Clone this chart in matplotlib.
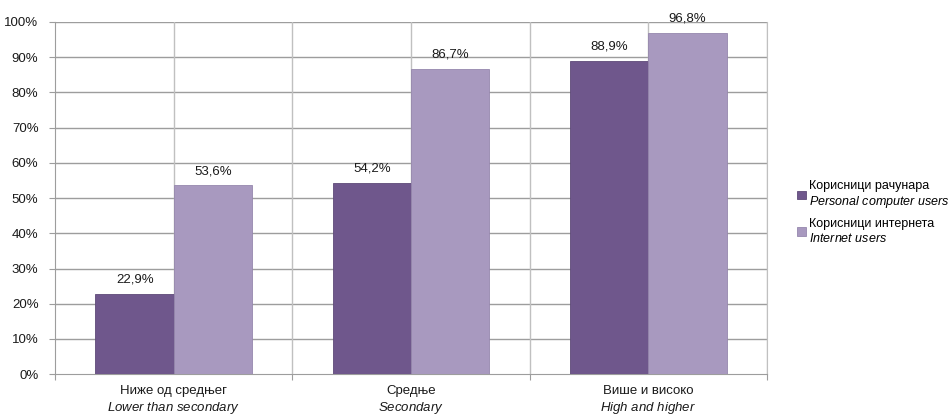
import matplotlib
matplotlib.use("Agg")
import matplotlib.pyplot as plt
import numpy as np

# data
categories = ["Ниже од средњег", "Средње", "Више и високо"]
categories_en = ["Lower than secondary", "Secondary", "High and higher"]
pc_users = [22.9, 54.2, 88.9]
net_users = [53.6, 86.7, 96.8]
series_names = ["Корисници рачунара", "Корисници интернета"]
series_names_en = ["Personal computer users", "Internet users"]

fam = "Liberation Sans"
plt.rcParams['font.family'] = [fam, 'DejaVu Sans']
plt.rcParams['mathtext.fontset'] = 'custom'
plt.rcParams['mathtext.rm'] = fam
plt.rcParams['mathtext.it'] = fam + ':italic'

dark = "#6f578c"
light = "#a899bf"
grid_col = "#9d9d9d"
txt_col = "#1a1a1a"


def it(s):
    return "$\\it{" + s.replace(" ", "\\ ") + "}$"


fig = plt.figure(figsize=(9.51, 4.19), dpi=100)
ax = fig.add_axes([0.058, 0.107, 0.7485, 0.8405])

x = np.arange(len(categories))
w = 0.33
b1 = ax.bar(x - w/2, pc_users, w, color=dark, edgecolor="#5e4a78", linewidth=0.6,
            label=series_names[0] + "\n" + it(series_names_en[0]), zorder=3)
b2 = ax.bar(x + w/2, net_users, w, color=light, edgecolor="#9687ad", linewidth=0.6,
            label=series_names[1] + "\n" + it(series_names_en[1]), zorder=3)

for bars, vals in [(b1, pc_users), (b2, net_users)]:
    for r, v in zip(bars, vals):
        ax.annotate(f"{v:.1f}".replace(".", ",") + "%",
                    (r.get_x() + r.get_width()/2, v), xytext=(0, 6),
                    textcoords="offset points", ha="center", va="bottom",
                    fontsize=9.5, color=txt_col, annotation_clip=False)

ax.set_xlim(-0.5, len(categories) - 0.5)
ax.set_ylim(0, 100)
ax.set_yticks(np.arange(0, 101, 10))
ax.set_yticklabels([f"{v}%" for v in range(0, 101, 10)], fontsize=9.5, color=txt_col)

# grid: horizontal every 10%, vertical at every half category
for yv in range(10, 101, 10):
    ax.axhline(yv, color=grid_col, lw=1.0, zorder=1)
for xv in np.arange(-0.5, len(categories), 0.5)[1:]:
    ax.axvline(xv, color="#c0c0c0", lw=1.0, zorder=1)

ax.set_xticks(np.arange(-0.5, len(categories), 1.0))
ax.set_xticklabels([])
ax.tick_params(axis="x", length=4, color=grid_col)
ax.tick_params(axis="y", length=4, color=grid_col, pad=8)
for s in ["left", "bottom"]:
    ax.spines[s].set_color(grid_col)
ax.spines["top"].set_visible(False)
ax.spines["right"].set_color("#c0c0c0")

for i in range(len(categories)):
    ax.text(i, -3.2, categories[i] + "\n" + it(categories_en[i]),
            ha="center", va="top", fontsize=9.5, color=txt_col,
            linespacing=1.25, transform=ax.transData)

leg = ax.legend(loc="center left", bbox_to_anchor=(1.027, 0.46), frameon=False,
                fontsize=9, handlelength=0.7, handleheight=0.7,
                handletextpad=0.25, labelspacing=0.6)

fig.savefig("out.png", dpi=100)
